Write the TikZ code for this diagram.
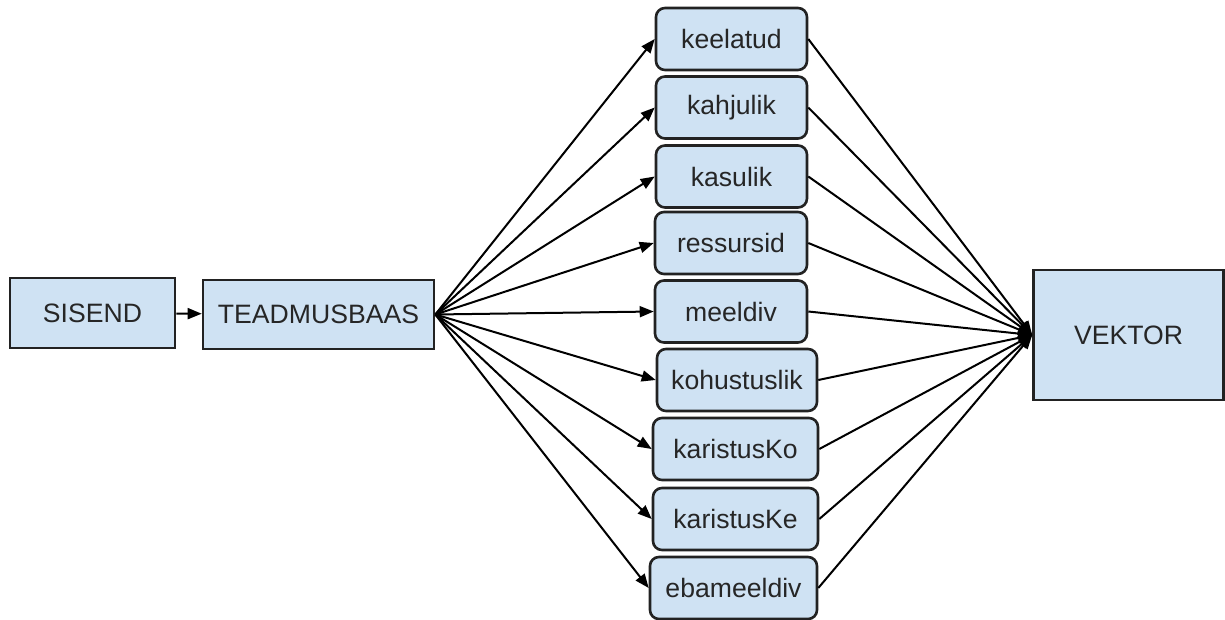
\documentclass[tikz,border=0pt]{standalone}
\usepackage{fontspec}
\setmainfont{Liberation Sans}
\usetikzlibrary{arrows.meta}
\definecolor{boxfill}{HTML}{CFE2F3}
\definecolor{boxline}{HTML}{222222}
\begin{document}
\begin{tikzpicture}[x=0.5pt,y=-0.5pt,
  box/.style={draw=boxline,line width=1.3pt,fill=boxfill,inner sep=0pt,
    font=\fontsize{13.3}{16}\selectfont,text=black!85},
  catbox/.style={box,rounded corners=4.5pt,minimum height=31pt},
  conn/.style={line width=1pt,-{Triangle[length=7pt,width=5.5pt]}}]
\useasboundingbox (0,0) rectangle (1225,620);
\node[box,minimum width=82.5pt,minimum height=35pt] (sis) at (92.5,313) {SISEND};
\node[box,minimum width=115.5pt,minimum height=34.5pt] (tea) at (318.5,314.5) {TEADMUSBAAS};
\node[box,minimum width=95pt,minimum height=65pt] (vek) at (1128.5,335) {VEKTOR};
\node[catbox,minimum width=75.5pt] (c1) at (731.5,39) {keelatud};
\node[catbox,minimum width=75.5pt] (c2) at (731.5,107.5) {kahjulik};
\node[catbox,minimum width=75.5pt] (c3) at (731.5,176.5) {kasulik};
\node[catbox,minimum width=76pt] (c4) at (731,243) {ressursid};
\node[catbox,minimum width=76pt] (c5) at (731,311.5) {meeldiv};
\node[catbox,minimum width=80pt] (c6) at (737,380) {kohustuslik};
\node[catbox,minimum width=82.5pt] (c7) at (735.5,449) {karistusKo};
\node[catbox,minimum width=82.5pt] (c8) at (735.5,519) {karistusKe};
\node[catbox,minimum width=83.5pt] (c9) at (733.5,588) {ebameeldiv};
\draw[conn] (sis) -- (tea);
\foreach \i in {1,...,9}{
  \draw[conn] (tea.east) -- (c\i.west);
  \draw[conn] (c\i.east) -- (vek.west);
}
\end{tikzpicture}
\end{document}
